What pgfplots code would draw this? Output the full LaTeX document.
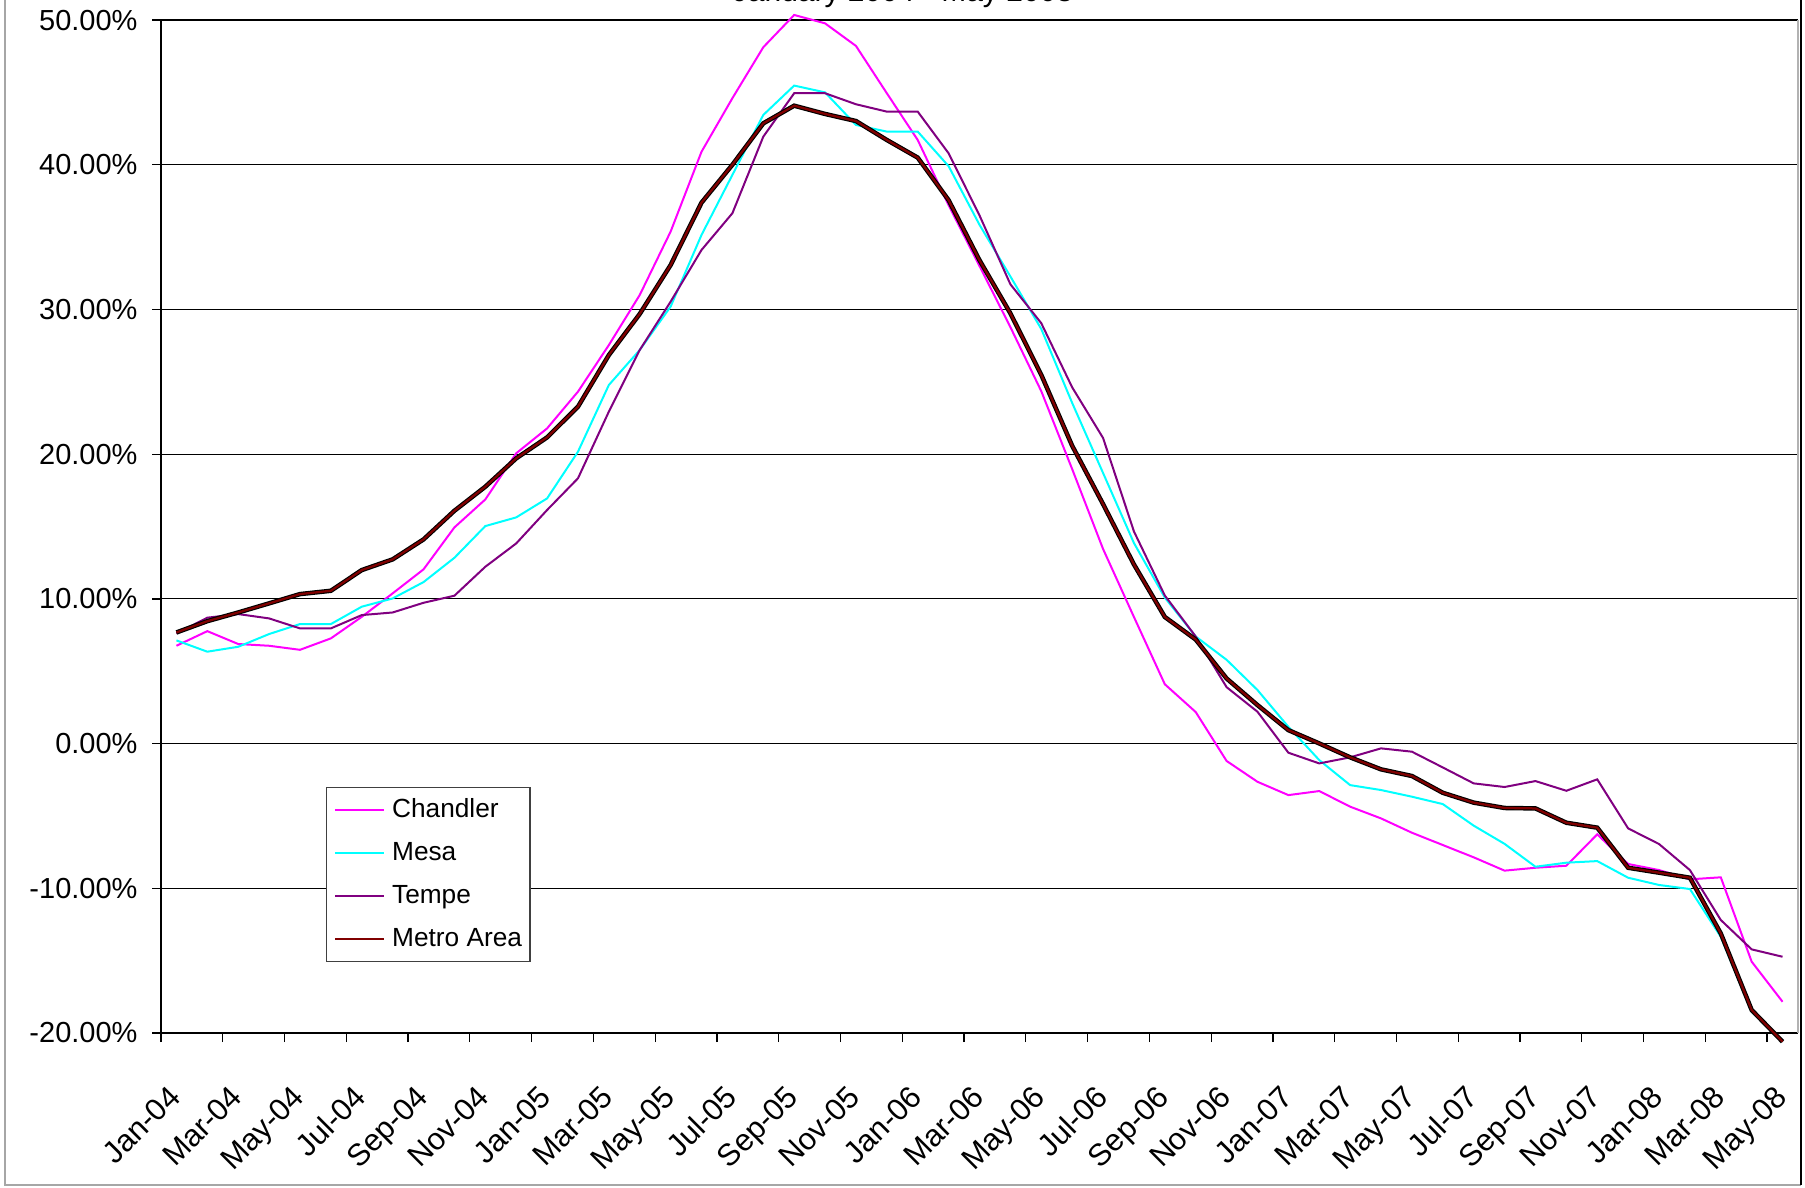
\documentclass[border=0pt]{standalone}
\usepackage{fontspec}
\setmainfont{Liberation Sans}
\usepackage{pgfplots}
\pgfplotsset{compat=1.18}
\usepackage{pgfplotstable}

\definecolor{chandler}{RGB}{255,0,255}
\definecolor{mesa}{RGB}{0,255,255}
\definecolor{tempe}{RGB}{128,0,128}
\definecolor{metro}{RGB}{128,0,0}

% Year-over-year change of home prices (%), monthly, Jan 2004 - May 2008
% x = month index (points sit mid-month)
\pgfplotstableread{
x     C       M       T       A
0.5   6.76    7.13    7.61    7.68
1.5   7.77    6.35    8.70    8.46
2.5   6.88    6.69    8.95    9.06
3.5   6.76    7.57    8.65    9.69
4.5   6.48    8.26    7.96    10.33
5.5   7.27    8.26    7.96    10.56
6.5   8.76    9.46    8.88    11.99
7.5   10.38   10.03   9.06    12.73
8.5   12.04   11.16   9.73    14.11
9.5   14.94   12.84   10.22   16.09
10.5  16.87   15.03   12.22   17.75
11.5  20.06   15.63   13.83   19.71
12.5  21.78   16.94   16.14   21.16
13.5  24.32   20.17   18.33   23.28
14.5  27.54   24.78   22.94   26.85
15.5  31.00   27.20   27.20   29.69
16.5  35.38   30.20   30.54   33.07
17.5  40.90   35.15   34.11   37.38
18.5  44.60   39.30   36.65   40.00
19.5  48.12   43.44   41.94   42.86
20.5  50.35   45.47   44.94   44.08
21.5  49.77   45.00   44.94   43.51
22.5  48.21   42.75   44.18   43.02
23.5  44.94   42.29   43.67   41.71
24.5  41.71   42.29   43.67   40.49
25.5  37.20   39.90   40.79   37.55
26.5  33.00   35.85   36.50   33.40
27.5  28.78   32.28   31.74   29.73
28.5  24.35   28.65   29.05   25.48
29.5  18.97   23.54   24.62   20.58
30.5  13.45   18.70   21.12   16.55
31.5  8.75    13.86   14.66   12.38
32.5  4.10    10.09   10.23   8.75
33.5  2.18    7.40    7.40    7.19
34.5  -1.20   5.79    3.90    4.50
35.5  -2.64   3.70    2.20    2.66
36.5  -3.56   1.16    -0.63   0.93
37.5  -3.28   -1.14   -1.37   0.01
38.5  -4.36   -2.87   -0.95   -0.95
39.5  -5.17   -3.21   -0.33   -1.78
40.5  -6.16   -3.67   -0.56   -2.24
41.5  -7.01   -4.18   -1.65   -3.40
42.5  -7.86   -5.67   -2.75   -4.08
43.5  -8.78   -6.93   -3.00   -4.45
44.5  -8.58   -8.51   -2.59   -4.48
45.5  -8.44   -8.23   -3.26   -5.47
46.5  -6.27   -8.12   -2.47   -5.81
47.5  -8.32   -9.27   -5.86   -8.58
48.5  -8.74   -9.77   -6.94   -8.92
49.5  -9.38   -10.05  -8.74   -9.27
50.5  -9.24   -13.35  -12.19  -13.12
51.5  -15.07  -18.53  -14.22  -18.41
52.5  -17.84  -20.60  -14.73  -20.60
}\pricedata

\begin{document}
\begin{tikzpicture}
\useasboundingbox (0,0) rectangle (722pt,474.8pt);
% chart area frame
\draw[gray!70, line width=0.6pt] (2pt,480pt) -- (2pt,0.8pt) -- (720.4pt,0.8pt);
\draw[black, line width=0.9pt] (720.4pt,0.8pt) -- (720.4pt,480pt);
% title
\node[anchor=base, font=\fontsize{12}{14}\selectfont, inner sep=0pt] at (361.2pt,474pt) {January 2004 - May 2008};
\begin{axis}[
  at={(64.4pt,61.6pt)}, anchor=south west,
  scale only axis, width=654.8pt, height=405.2pt,
  xmin=0, xmax=53, ymin=-20, ymax=50,
  clip=false,
  axis x line*=bottom, axis y line*=left,
  axis line style={-, black, line width=0.6pt},
  xtick={0,2,...,52},
  xticklabels={Jan-04,Mar-04,May-04,Jul-04,Sep-04,Nov-04,Jan-05,Mar-05,May-05,Jul-05,Sep-05,Nov-05,Jan-06,Mar-06,May-06,Jul-06,Sep-06,Nov-06,Jan-07,Mar-07,May-07,Jul-07,Sep-07,Nov-07,Jan-08,Mar-08,May-08},
  ytick={-20,-10,...,50},
  yticklabels={-20.00\%,-10.00\%,0.00\%,10.00\%,20.00\%,30.00\%,40.00\%,50.00\%},
  xtick pos=bottom, ytick pos=left,
  tick align=outside, major tick length=3.6pt,
  tick style={black, line width=0.5pt},
  ticklabel style={font=\fontsize{11.6}{13}\selectfont},
  xticklabel style={font=\fontsize{12.3}{14}\selectfont, xshift=2.4pt, yshift=-16.4pt, rotate=45, anchor=north east, inner sep=0pt},
  yticklabel style={xshift=-5.6pt, anchor=east, inner sep=0pt},
  ymajorgrids, grid style={black, line width=0.45pt},
  legend style={at={(0.1008,0.2428)}, anchor=north west,
    draw=black!75, line width=0.5pt, fill=white,
    font=\fontsize{10.5}{12}\selectfont,
    inner xsep=3.2pt, inner ysep=3.9pt, row sep=7.1pt,
    nodes={inner sep=0pt, text height=7.9pt, text depth=2.2pt},
    /tikz/every odd column/.append style={column sep=2.8pt}},
  legend cell align=left,
  legend image code/.code={\draw[#1, line width=0.6pt] (0pt,0pt) -- (19.6pt,0pt);},
]
\addplot[chandler, line width=0.8pt] table[x=x, y=C] {\pricedata};
\addplot[mesa, line width=0.8pt] table[x=x, y=M] {\pricedata};
\addplot[tempe, line width=0.8pt] table[x=x, y=T] {\pricedata};
\addplot[black, line width=1.8pt, forget plot] table[x=x, y=A] {\pricedata};
\addplot[metro, line width=0.9pt] table[x=x, y=A] {\pricedata};
\legend{Chandler, Mesa, Tempe, Metro Area}
% plot area right border
\draw[gray!60, line width=0.8pt] (rel axis cs:1,0) -- (rel axis cs:1,1);
\end{axis}
\end{tikzpicture}
\end{document}
